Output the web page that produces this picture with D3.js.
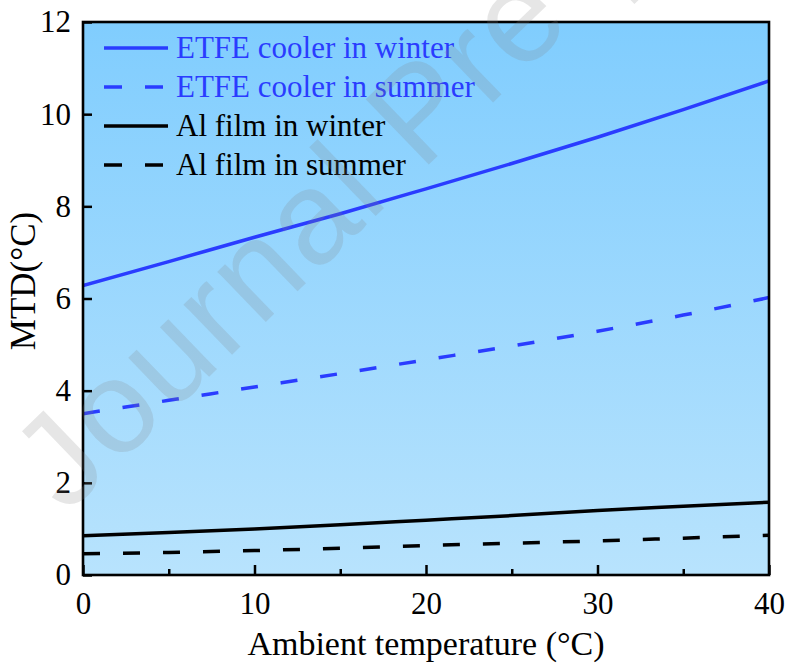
<!DOCTYPE html>
<html>
<head>
<meta charset="utf-8">
<script src="https://cdn.jsdelivr.net/npm/d3@7"></script>
<style>
  html, body { margin: 0; padding: 0; background: #ffffff; }
  svg { display: block; }
</style>
</head>
<body>
<script>
// ---- data ----
const temperatures = [0, 5, 10, 15, 20, 25, 30, 35, 40];
const etfeWinter = [6.28, 6.80, 7.33, 7.84, 8.38, 8.93, 9.50, 10.10, 10.72];
const etfeSummer = [3.50, 3.79, 4.08, 4.37, 4.67, 4.97, 5.29, 5.64, 6.02];
const alWinter   = [0.85, 0.92, 1.00, 1.09, 1.19, 1.29, 1.40, 1.49, 1.58];
const alSummer   = [0.46, 0.49, 0.53, 0.58, 0.64, 0.69, 0.74, 0.80, 0.86];
const seriesNames = ["ETFE cooler in winter", "ETFE cooler in summer", "Al film in winter", "Al film in summer"];
const xTicks = [0, 10, 20, 30, 40];
const xMinorTicks = [5, 15, 25, 35];
const yTicks = [0, 2, 4, 6, 8, 10, 12];
const xTitle = "Ambient temperature (°C)";
const yTitle = "MTD(°C)";
const watermark = "Journal Pre-proof";

// ---- layout ----
const W = 790, H = 666;
const m = { left: 83, right: 769, top: 22, bottom: 575 };
const blue = "#2a3cff";
const serif = "'Liberation Serif', 'Times New Roman', serif";

const svg = d3.select("body").append("svg").attr("width", W).attr("height", H);

const x = d3.scaleLinear().domain([0, 40]).range([m.left, m.right]);
const y = d3.scaleLinear().domain([0, 12]).range([m.bottom, m.top]);

const defs = svg.append("defs");
const grad = defs.append("linearGradient").attr("id", "bg").attr("x1", 0).attr("y1", 0).attr("x2", 0).attr("y2", 1);
grad.append("stop").attr("offset", "0%").attr("stop-color", "#80cdfe");
grad.append("stop").attr("offset", "100%").attr("stop-color", "#b8e3fd");
defs.append("clipPath").attr("id", "clip").append("rect")
  .attr("x", m.left).attr("y", m.top).attr("width", m.right - m.left).attr("height", m.bottom - m.top);

svg.append("rect").attr("x", m.left).attr("y", m.top)
  .attr("width", m.right - m.left).attr("height", m.bottom - m.top)
  .attr("fill", "url(#bg)");

// series
const series = [
  { name: seriesNames[0], values: etfeWinter, color: blue, dash: null },
  { name: seriesNames[1], values: etfeSummer, color: blue, dash: "17,23" },
  { name: seriesNames[2], values: alWinter, color: "#000", dash: null },
  { name: seriesNames[3], values: alSummer, color: "#000", dash: "17,23" }
];

const line = d3.line().x(d => x(d[0])).y(d => y(d[1])).curve(d3.curveMonotoneX);
const gLines = svg.append("g").attr("clip-path", "url(#clip)");
series.forEach(s => {
  gLines.append("path")
    .datum(temperatures.map((t, i) => [t, s.values[i]]))
    .attr("d", line)
    .attr("fill", "none")
    .attr("stroke", s.color)
    .attr("stroke-width", 3.5)
    .attr("stroke-dasharray", s.dash);
});

// legend
const lg = svg.append("g");
series.forEach((s, i) => {
  const ly = 48 + i * 39;
  lg.append("line").attr("x1", 104).attr("x2", 168).attr("y1", ly).attr("y2", ly)
    .attr("stroke", s.color).attr("stroke-width", 3.5)
    .attr("stroke-dasharray", s.dash ? "18,23" : null);
  lg.append("text").attr("x", 176).attr("y", ly + 10)
    .attr("font-family", serif).attr("font-size", 31)
    .attr("fill", s.color).text(s.name);
});

// axes
const xAxis = svg.append("g").attr("transform", `translate(0,${m.bottom})`)
  .call(d3.axisBottom(x).tickValues(xTicks).tickSizeInner(-10).tickSizeOuter(0).tickPadding(17).tickFormat(d3.format("d")));
const xMinor = svg.append("g").attr("transform", `translate(0,${m.bottom})`)
  .call(d3.axisBottom(x).tickValues(xMinorTicks).tickSizeInner(-6).tickSizeOuter(0).tickFormat(""));
const yAxis = svg.append("g").attr("transform", `translate(${m.left},0)`)
  .call(d3.axisLeft(y).tickValues(yTicks).tickSizeInner(-9).tickSizeOuter(0).tickPadding(12).tickFormat(d3.format("d")));

[xAxis, xMinor, yAxis].forEach(g => {
  g.select(".domain").remove();
  g.selectAll(".tick line").attr("stroke", "#000").attr("stroke-width", 2.5);
  g.selectAll(".tick text").attr("font-family", serif).attr("font-size", 31).attr("fill", "#000");
});

// frame
svg.append("rect").attr("x", m.left).attr("y", m.top)
  .attr("width", m.right - m.left).attr("height", m.bottom - m.top)
  .attr("fill", "none").attr("stroke", "#000").attr("stroke-width", 2.6);

// titles
svg.append("text").attr("x", (m.left + m.right) / 2).attr("y", 655)
  .attr("text-anchor", "middle").attr("font-family", serif).attr("font-size", 34)
  .attr("fill", "#000").text(xTitle);
svg.append("text").attr("transform", "translate(35,281) rotate(-90)")
  .attr("text-anchor", "middle").attr("font-family", serif).attr("font-size", 35)
  .attr("fill", "#000").text(yTitle);

// watermark
svg.append("text").attr("transform", "translate(66,515) rotate(-44)")
  .attr("font-family", "'Liberation Sans', Arial, sans-serif").attr("font-size", 132)
  .attr("letter-spacing", 3)
  .attr("fill", "#808080").attr("fill-opacity", 0.2).text(watermark);
</script>
</body>
</html>
